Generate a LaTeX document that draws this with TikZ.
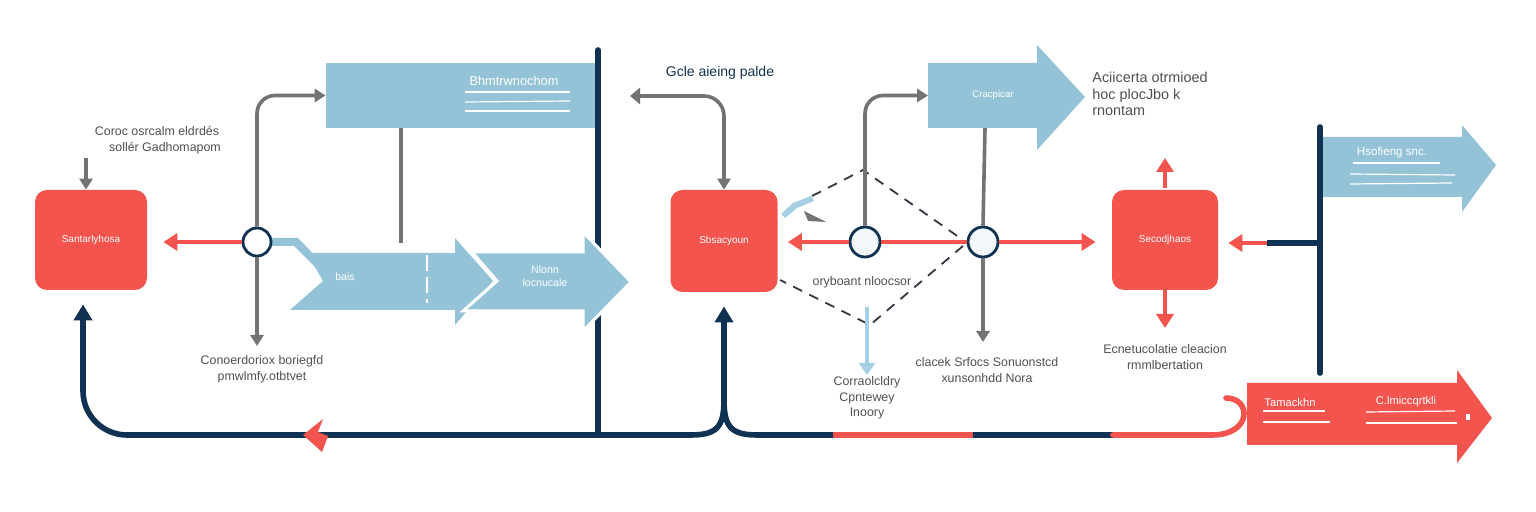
\documentclass[tikz,border=0pt]{standalone}
\usepackage{fontspec}
\setmainfont{Liberation Sans}
\usetikzlibrary{arrows.meta}
\definecolor{cred}{RGB}{244,84,78}
\definecolor{cblue}{RGB}{148,195,216}
\definecolor{clblue}{RGB}{165,208,228}
\definecolor{cnavy}{RGB}{16,50,82}
\definecolor{cgray}{RGB}{115,115,115}
\definecolor{ctext}{RGB}{80,80,80}
\definecolor{cdash}{RGB}{50,55,65}
\begin{document}
\begin{tikzpicture}[x=0.5pt,y=-0.5pt,
 redbox/.style={fill=cred, rounded corners=6pt, text=white, font=\fontsize{5}{6}\selectfont, inner sep=0pt},
 hub/.style={circle, draw=cnavy, line width=1.4pt, fill=white, minimum size=14pt, inner sep=0pt},
 redline/.style={draw=cred, line width=2pt},
 redarrow/.style={redline, -{Triangle[length=7pt,width=8.5pt]}},
 grayline/.style={draw=cgray, line width=1.8pt},
 grayarrow/.style={grayline, -{Triangle[length=5.5pt,width=6.5pt]}},
 navyline/.style={draw=cnavy, line width=2.8pt},
 navyarrow/.style={navyline, -{Triangle[length=8pt,width=9pt]}},
 lbl/.style={text=ctext, font=\fontsize{6.2}{7.8}\selectfont, align=center, inner sep=0pt},
 wtxt/.style={text=white, font=\fontsize{5.3}{6.4}\selectfont, inner sep=0pt, align=center},
 wline/.style={draw=white, line width=0.6pt},
 bluefill/.style={fill=cblue},
]
\useasboundingbox (0,0) rectangle (1536,512);
\fill[white] (0,0) rectangle (1536,512);

% ---------- coordinates ----------
\coordinate (vL) at (83,435);
\coordinate (jL) at (690,435);
\coordinate (jM) at (724,400);
\coordinate (jR) at (758,435);
\coordinate (n1top) at (598,50);
\coordinate (n1bot) at (598,435);
\coordinate (b1) at (833,435);
\coordinate (b2) at (973,435);
\coordinate (b3) at (1113,435);
\coordinate (hookend) at (1226,398);
\coordinate (gA) at (86,158);
\coordinate (r1foot) at (401,243);
\coordinate (gtail) at (630,96);
\coordinate (arrTw) at (928,95.5);
\coordinate (arrTb) at (985,128);
\coordinate (n2top) at (1320,127);
\coordinate (n2bot) at (1320,373);
\coordinate (n2mid) at (1320,243);
\coordinate (n2left) at (1267,243);
\coordinate (cUp) at (1165,158);
\coordinate (cDn) at (1165,328);
\coordinate (lbTop) at (867,307);
\coordinate (lbBot) at (867,375);
\coordinate (c1end) at (257,346);
\coordinate (c3end) at (983,342);

% ---------- blue rectangle top-left ----------
\node[bluefill, minimum width=136pt, minimum height=32.5pt, inner sep=0pt] (rect1) at (462,95.5) {};
\node[wtxt, font=\fontsize{6.4}{7}\selectfont] (rect1txt) at (514,81) {Bhmtrwnochom};
\draw[wline] (465,92) -- (570,92);
\draw[wline] (465,102) -- (570,101);
\draw[wline] (465,111) -- (570,111);

% ---------- navy vertical through the middle ----------
\draw[navyline, line cap=round] (n1top) -- (n1bot);

% ---------- blue arrows in the middle ----------
\fill[cblue] (271,238) -- (298,238) -- (325,266) -- (318,270) -- (294,246) -- (271,246) -- cycle;
\fill[cblue] (290,310) -- (323,281) -- (307,253) -- (455,253) -- (455,238) -- (493,281) -- (455,325) -- (455,310) -- cycle;
\draw[white, line width=1pt, dash pattern=on 8pt off 3pt] (427,255) -- (427,303);
\node[wtxt] (t1) at (345,277) {bais};
\filldraw[fill=cblue, draw=white, line width=1.5pt] (463,311) -- (497,281) -- (472,252) -- (583,252) -- (583,232) -- (631,282) -- (583,331) -- (583,311) -- cycle;
\node[wtxt] (t2) at (545,276) {Nlonn\\locnucale};

% ---------- red boxes ----------
\node[redbox, minimum width=56pt, minimum height=50pt] (boxA) at (91,240) {Santarlyhosa};
\node[redbox, minimum width=53.5pt, minimum height=51pt] (boxB) at (724,241) {Sbsacyoun};
\node[redbox, minimum width=53pt, minimum height=50pt] (boxC) at (1165,240) {Secodjhaos};

% ---------- hubs ----------
\node[hub] (c1) at (257,242) {};
\node[hub, minimum size=15pt, fill=cblue!12] (c2) at (865,242) {};
\node[hub, minimum size=15pt, fill=cblue!12] (c3) at (983,242) {};

% ---------- left part connectors ----------
\node[lbl] (lA) at (157,140) {Coroc osrcalm eldrdés\\\hspace*{8pt}sollér Gadhomapom};
\draw[grayarrow] (gA) -- (gA |- boxA.north);
\draw[redarrow, shorten >=8pt] (c1.west) -- (boxA.east |- c1.west);
\draw[grayarrow, rounded corners=9pt] (c1.north) |- (rect1.west);
\draw[grayarrow] (c1.south) -- (c1end);
\node[lbl] (lB) at (262,369) {Conoerdoriox boriegfd\\pmwlmfy.otbtvet};
\draw[grayline] (rect1.south -| r1foot) -- (r1foot);

% ---------- bottom loop ----------
\draw[navyarrow, rounded corners=22pt, shorten >=7pt] (jL) -- (vL) -- (vL |- boxA.south);
\draw[navyline] (jL) .. controls (716,435) and (724,428) .. (jM);
\draw[navyline] (jR) .. controls (732,435) and (724,428) .. (jM);
\draw[navyarrow, shorten >=7pt] (jM) -- (boxB.south);
\fill[cred] (303,435) -- (323,419) -- (318,432) -- (328,436) -- (322,452) -- cycle;
\draw[navyline] (jR) -- (b1);
\draw[cred, line width=2.8pt] (b1) -- (b2);
\draw[navyline] (b2) -- (b3);
\draw[cred, line width=2.8pt, line cap=round] (b3) -- (1212,435) .. controls (1252,435) and (1252,398) .. (hookend);

% ---------- middle part ----------
\node[text=cnavy, font=\fontsize{7}{8}\selectfont, inner sep=0pt] (lG) at (720,73) {Gcle aieing palde};
\draw[grayline, {Triangle[length=5pt,width=8pt]}-{Triangle[length=5.5pt,width=6.5pt]}, rounded corners=10pt] (gtail) -| (boxB.north);
\fill[clblue] (781,214) -- (793,203) -- (811,196) -- (814,201) -- (797,208) -- (785,218) -- cycle;
\fill[cgray] (804,211) -- (826,222) -- (808,221) -- cycle;
\draw[cdash, line width=0.9pt, dash pattern=on 5pt off 4pt] (812,196) -- (863,170) -- (963,240);
\draw[cdash, line width=0.9pt, dash pattern=on 5pt off 4pt] (963,246) -- (870,325) -- (780,280);
\draw[redarrow, shorten >=5pt] (c2.west) -- (boxB.east |- c2.west);
\draw[redline] (c2.east) -- (c3.west);
\draw[redarrow, shorten >=8pt] (c3.east) -- (boxC.west |- c3.east);
\draw[grayarrow, rounded corners=9pt] (c2.north) |- (arrTw);
\draw[grayline] (arrTb) -- (c3.north);
\draw[grayarrow] (c3.south) -- (c3end);
\node[lbl] (lD) at (862,282) {oryboant nloocsor};
\draw[clblue, line width=2.4pt, -{Triangle[length=6pt,width=8pt]}] (lbTop) -- (lbBot);
\node[lbl] (lE) at (867,398) {Corraolcldry\\Cpntewey\\Inoory};
\node[lbl] (lF) at (987,370) {clacek Srfocs Sonuonstcd\\xunsonhdd Nora};

% ---------- top middle arrow ----------
\fill[cblue] (928,63) -- (1037,63) -- (1037,45) -- (1085,97) -- (1037,150) -- (1037,128) -- (928,128) -- cycle;
\node[wtxt, font=\fontsize{4.8}{6}\selectfont] (t3) at (993,95) {Cracpicar};
\node[text=ctext, font=\fontsize{7.2}{8.2}\selectfont, align=left, anchor=north west, inner sep=0pt] (lH) at (1092,72) {Aciicerta otrmioed\\hoc plocJbo k\\rnontam};

% ---------- right part ----------
\draw[redarrow, shorten <=1pt] (boxC.north) -- (cUp);
\draw[redarrow] (boxC.south) -- (cDn);
\node[lbl] (lC) at (1165,357) {Ecnetucolatie cleacion\\rmmlbertation};

\fill[cblue] (1320,137) -- (1462,137) -- (1462,125) -- (1496,165) -- (1462,212) -- (1462,197) -- (1320,197) -- cycle;
\node[wtxt, font=\fontsize{5.8}{7}\selectfont] (t4) at (1392,153) {Hsofieng snc.};
\draw[wline] (1353,163) -- (1440,163);
\draw[wline] (1350,174) -- (1455,175);
\draw[wline] (1350,184) -- (1452,183);

\draw[navyline, line cap=round] (n2top) -- (n2bot);
\draw[navyline] (n2mid) -- (n2left);
\draw[redarrow, shorten >=5pt] (n2left) -- (boxC.east |- n2left);

\fill[cred] (1247,383) -- (1457,383) -- (1457,370) -- (1492,418) -- (1457,463) -- (1457,445) -- (1247,445) -- cycle;
\node[wtxt, font=\fontsize{5.6}{7}\selectfont] (t5) at (1290,402) {Tamackhn};
\node[wtxt, font=\fontsize{5.6}{7}\selectfont] (t6) at (1406,402) {C.lmiccqrtkli};
\draw[wline] (1263,411) -- (1325,411);
\draw[wline] (1263,422) -- (1330,422);
\draw[wline] (1366,412) -- (1455,411);
\draw[wline] (1366,423) -- (1457,423);
\fill[white] (1466,414) rectangle (1470,420);
\end{tikzpicture}
\end{document}
